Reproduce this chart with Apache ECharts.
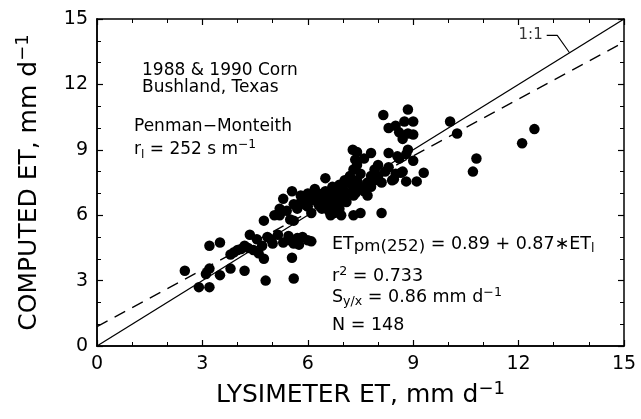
<!DOCTYPE html>
<html>
<head>
<meta charset="utf-8">
<script src="https://cdn.jsdelivr.net/npm/echarts@6/dist/echarts.min.js"></script>
<style>
  html, body { margin: 0; padding: 0; background: #fff; }
  #chart-container { width: 641px; height: 419px; }
</style>
</head>
<body>
<div id="chart-container"></div>
<script>
const FONT = 'DejaVu Sans';

// tick labels, both axes
const tickValues = [0, 3, 6, 9, 12, 15];

// lysimeter ET vs computed ET (mm/d)
const lysimeterET = [
  2.5, 2.9, 3.2, 3.2, 3.5, 3.2, 3.5, 3.1, 3.8, 4.2, 3.8, 4.0, 4.3, 4.35, 4.55, 4.75, 4.75, 4.8, 5.55, 5.6,
  3.9, 4.1, 4.45, 4.6, 4.7, 4.2,
  4.95, 5.15, 5.3, 5.45, 5.6, 5.7, 5.85, 6.0, 6.1, 5.0, 5.5, 4.85, 5.75,
  5.3, 5.55, 6.5, 5.05, 5.2, 5.6,
  5.2, 5.4, 5.5, 5.6, 5.7, 5.8, 5.9, 6.0, 6.0, 6.1, 6.1, 6.2, 6.3, 6.3, 6.4, 6.4, 6.5, 6.5, 6.6, 6.6,
  6.7, 6.7, 6.8, 6.8, 6.9, 6.9, 7.0, 7.0, 7.1, 7.1, 7.2, 7.2, 7.3, 7.3, 7.4, 7.4, 7.5, 7.5, 7.6, 7.6,
  7.7, 7.7, 7.8, 7.8, 7.9, 7.9, 8.0, 8.0, 8.1, 8.2, 8.3, 8.4, 8.5, 8.6, 8.7, 8.8, 5.8, 6.2, 6.9, 7.25,
  7.35, 6.35, 5.95, 6.75, 7.05,
  8.15, 8.85, 8.3, 8.5, 8.75, 9.0, 9.0, 8.7, 9.0, 9.3, 9.1, 8.85, 8.3, 8.1, 10.05, 10.25, 10.7, 10.8,
  12.1, 12.45, 7.4, 7.8, 7.3, 7.5, 7.3, 6.65, 6.95, 8.45, 8.65, 8.8, 8.55, 8.6, 8.85, 7.28, 7.35
];
const computedET = [
  3.45, 2.7, 2.7, 4.6, 4.75, 3.55, 3.25, 3.3, 3.55, 3.45, 4.2, 4.4, 4.5, 5.1, 4.9, 5.75, 4.0, 3.0, 4.05, 3.1,
  4.3, 4.45, 4.4, 4.25, 4.6, 4.6,
  4.9, 5.1, 4.75, 5.05, 4.7, 4.95, 5.0, 4.85, 4.8, 4.7, 4.85, 5.0, 4.65,
  6.75, 7.1, 7.7, 6.0, 6.3, 5.75,
  6.0, 6.2, 5.8, 6.5, 6.3, 6.6, 6.8, 6.4, 7.0, 6.1, 6.7, 6.9, 6.5, 7.0, 6.3, 6.8, 6.6, 7.1, 6.2, 6.9,
  7.3, 6.5, 7.0, 6.7, 7.4, 6.3, 7.2, 6.8, 7.5, 6.6, 7.0, 7.8, 7.2, 6.9, 7.6, 8.3, 7.3, 7.9, 7.1, 8.6,
  7.5, 6.9, 7.8, 7.3, 8.1, 7.6, 7.8, 8.3, 7.5, 8.0, 8.2, 7.6, 7.9, 8.6, 8.0, 8.8, 6.9, 7.2, 6.6, 7.4,
  7.0, 6.9, 6.45, 6.1, 7.6,
  10.6, 10.85, 10.0, 10.1, 10.3, 10.3, 9.7, 9.5, 8.5, 7.95, 7.55, 9.0, 8.85, 6.1, 10.3, 9.75, 8.0, 8.6,
  9.3, 9.95, 8.9, 8.85, 8.1, 6.1, 6.0, 6.0, 6.0, 7.65, 7.95, 7.55, 8.7, 9.8, 9.75, 9.0, 8.55
];

// regression from the panel: ET_pm = 0.89 + 0.87 * ET_l
const regIntercept = 0.89;
const regSlope = 0.87;
const lineEnds = [0, 15];

// "1:1" leader, in data units
const leaderX = [12.8, 13.1, 13.45];
const leaderY = [14.25, 14.25, 13.45];

const GRID = { left: 97, right: 17, top: 19, bottom: 73 };
const PLOT_W = 641 - GRID.left - GRID.right;
const PLOT_H = 419 - GRID.top - GRID.bottom;

const initChart = () => {
  const dom = document.getElementById('chart-container');
  return echarts.init(dom, null, { renderer: 'canvas' });
};

const mkRich = (size) => {
  const base = { fontFamily: FONT, fontSize: size, color: '#000' };
  return {
    n: { ...base, lineHeight: 22 },
    sub: { ...base, fontSize: size * 0.72, lineHeight: 8, verticalAlign: 'bottom' },
    sup: { ...base, fontSize: size * 0.72, lineHeight: 8, verticalAlign: 'top' },
    bsub: { ...base, fontSize: size * 0.95, lineHeight: 10, verticalAlign: 'bottom' },
  };
};

const scale = {
  type: 'value',
  min: tickValues[0],
  max: tickValues[tickValues.length - 1],
  interval: tickValues[1] - tickValues[0],
  splitLine: { show: false },
};

// label-only axis
const labelAxis = (pos) => ({
  ...scale,
  position: pos,
  axisLine: { show: true, onZero: false, lineStyle: { color: '#000', width: 1.5 } },
  axisTick: { show: false },
  axisLabel: { fontFamily: FONT, fontSize: 19, color: '#000', margin: 9 },
});

// tick-only axis; the top/right ones are also shifted onto the bottom/left
// edge with outward ticks, which then point into the frame
const tickAxis = (pos, inside, offset) => ({
  ...scale,
  position: pos,
  offset: offset,
  axisLine: { show: true, onZero: false, lineStyle: { color: '#000', width: 1.5 } },
  axisTick: { show: true, inside: inside, length: 6, lineStyle: { color: '#000', width: 1.2 } },
  minorTick: { show: true, splitNumber: 3, length: 4, lineStyle: { color: '#000', width: 1 } },
  axisLabel: { show: false },
});

const titleRich = {
  t: { fontFamily: FONT, fontSize: 25, color: '#000', lineHeight: 30 },
  s: { fontFamily: FONT, fontSize: 18, color: '#000', lineHeight: 16, verticalAlign: 'top' },
};

const textEl = (x, y, text, size) => ({
  type: 'text',
  x: x,
  y: y,
  style: {
    text: text,
    rich: mkRich(size),
    fontFamily: FONT,
    fontSize: size,
    fill: '#000',
    verticalAlign: 'middle',
  },
});

const renderChart = (chart) => {
  const points = lysimeterET.map((x, i) => [x, computedET[i]]);

  chart.setOption({
    animation: false,
    grid: GRID,
    xAxis: [
      {
        ...labelAxis('bottom'),
        name: '{t|LYSIMETER ET, mm d}{s|−1}',
        nameLocation: 'middle',
        nameGap: 34,
        nameTextStyle: { rich: titleRich },
      },
      tickAxis('top', true, 0),
      tickAxis('top', false, -PLOT_H),
    ],
    yAxis: [
      {
        ...labelAxis('left'),
        name: '{t|COMPUTED ET, mm d}{s|−1}',
        nameLocation: 'middle',
        nameGap: 53,
        nameTextStyle: { rich: titleRich },
      },
      tickAxis('right', true, 0),
      tickAxis('right', false, -PLOT_W),
    ],
    graphic: [
      textEl(142, 71, '{n|1988 & 1990 Corn}', 17),
      textEl(142, 88, '{n|Bushland, Texas}', 17),
      textEl(134, 127, '{n|Penman−Monteith}', 17),
      textEl(134, 150, '{n|r}{sub|l}{n| = 252 s m}{sup|−1}', 17),
      textEl(332, 244, '{n|ET}{bsub|pm(252)}{n| = 0.89 + 0.87∗ET}{sub|l}', 17.5),
      textEl(332, 276, '{n|r}{sup|2}{n| = 0.733}', 17.5),
      textEl(332, 297, '{n|S}{sub|y/x}{n| = 0.86 mm d}{sup|−1}', 17.5),
      textEl(332, 325, '{n|N = 148}', 17.5),
    ],
    series: [
      {
        name: '1:1',
        type: 'line',
        data: lineEnds.map((v) => [v, v]),
        showSymbol: false,
        lineStyle: { color: '#000', width: 1.3 },
        z: 3,
      },
      {
        name: 'regression',
        type: 'line',
        data: lineEnds.map((v) => [v, regIntercept + regSlope * v]),
        showSymbol: false,
        lineStyle: { color: '#000', width: 1.3, type: [12, 8] },
        z: 3,
      },
      {
        name: 'leader',
        type: 'line',
        data: leaderX.map((x, i) => [x, leaderY[i]]),
        showSymbol: false,
        lineStyle: { color: '#000', width: 1.1 },
      },
      {
        name: 'leaderLabel',
        type: 'scatter',
        data: [[leaderX[0], leaderY[0]]],
        symbolSize: 2,
        itemStyle: { color: 'rgba(0,0,0,0)' },
        label: {
          show: true,
          position: 'left',
          distance: 3,
          fontFamily: FONT,
          fontSize: 15,
          color: '#000',
          formatter: '1:1',
        },
      },
      {
        name: 'ET',
        type: 'scatter',
        data: points,
        symbol: 'circle',
        symbolSize: 10.5,
        itemStyle: { color: '#000', opacity: 1 },
        z: 4,
      },
    ],
  });
};

const chart = initChart();
renderChart(chart);
</script>
</body>
</html>
